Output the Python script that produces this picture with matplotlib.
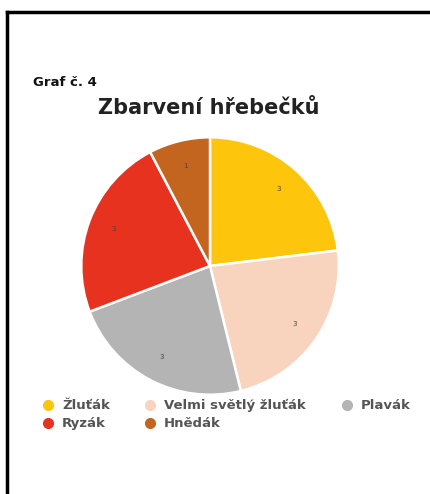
import matplotlib
matplotlib.use("Agg")
import matplotlib.pyplot as plt
from matplotlib.lines import Line2D

categories = ["Žluťák", "Velmi světlý žluťák", "Plavák", "Ryzák", "Hnědák"]
values = [3, 3, 3, 3, 1]
colors = ["#FDC50C", "#F8D3BD", "#B5B4B4", "#E6321F", "#C4651F"]

W, H = 431, 494
fig = plt.figure(figsize=(W / 100, H / 100), dpi=100)
fig.patch.set_facecolor("white")

def fx(px):
    return px / W

def fy(py):
    return 1 - py / H

# border lines (top and left)
fig.add_artist(Line2D([fx(7), 1.0], [fy(12), fy(12)], color="black", lw=2.5, transform=fig.transFigure))
fig.add_artist(Line2D([fx(7), fx(7)], [0.0, fy(12)], color="black", lw=2.5, transform=fig.transFigure))

fig.text(fx(33), fy(83), "Graf č. 4", fontsize=9.5, fontweight="bold", family="Liberation Sans Narrow",
         ha="left", va="center", color="#111111")
fig.text(fx(209), fy(108), "Zbarvení hřebečků", fontsize=15, fontweight="bold", family="DejaVu Sans",
         ha="center", va="center", color="#222222")

# pie: centre (210, 266), radius 130 px
R = 130
ax = fig.add_axes([fx(210 - R), fy(266 + R), fx(2 * R), 2 * R / H])
wedges, texts, autotexts = ax.pie(
    values, colors=colors, startangle=90, counterclock=False,
    wedgeprops=dict(edgecolor="white", linewidth=1.8),
    autopct=lambda p: "{:d}".format(int(round(p * sum(values) / 100.0))),
    pctdistance=0.8, textprops=dict(fontsize=5, color="#444444"))
ax.set_xlim(-1.01, 1.01)
ax.set_ylim(-1.01, 1.01)
ax.set_aspect("equal")

# legend, laid out row-wise as in the reference
legend_pos = [(48, 405), (150, 405), (347, 405), (48, 423), (150, 423)]
for (px, py), cat, col in zip(legend_pos, categories, colors):
    fig.add_artist(Line2D([fx(px)], [fy(py)], marker="o", ls="", markersize=7,
                          markerfacecolor=col, markeredgecolor=col, transform=fig.transFigure))
    fig.text(fx(px + 14), fy(py), cat, fontsize=9.5, fontweight="bold", family="DejaVu Sans",
             ha="left", va="center", color="#555555")

fig.savefig("out.png", dpi=100, facecolor="white")
